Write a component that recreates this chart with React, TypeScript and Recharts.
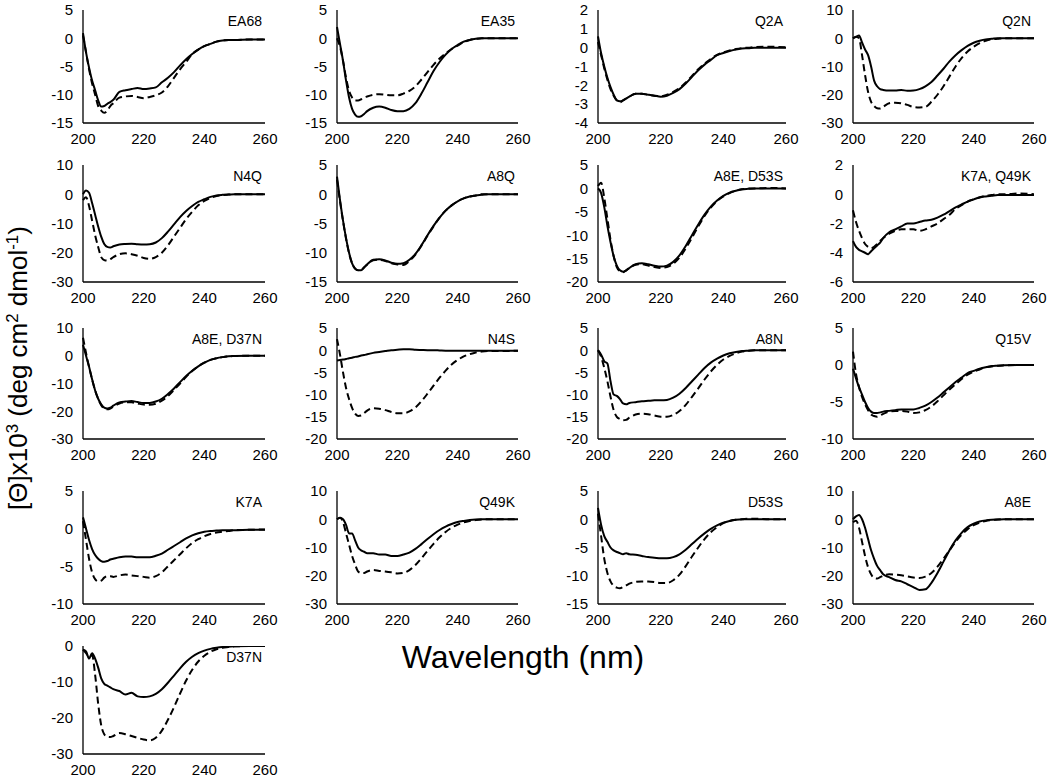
import { LineChart, Line, XAxis, YAxis } from "recharts";

// wavelength grid (nm)
const WL = [
  200, 201, 202, 203, 204, 205, 206, 207, 208, 209, 210,
  212, 214, 216, 218, 220, 222, 224, 226, 228, 230,
  232, 234, 236, 238, 240, 242, 244, 246, 248, 250,
  255, 260,
];
const X_TICKS = [200, 220, 240, 260];

// y tick sets
const T_5_15 = [-15, -10, -5, 0, 5];
const T_2_4 = [-4, -3, -2, -1, 0, 1, 2];
const T_10_30 = [-30, -20, -10, 0, 10];
const T_5_20 = [-20, -15, -10, -5, 0, 5];
const T_2_6 = [-6, -4, -2, 0, 2];
const T_5_10 = [-10, -5, 0, 5];
const T_0_30 = [-30, -20, -10, 0];

// ellipticity values (x10^3), solid and dashed traces
const ea68Solid = [0.9, -2.5, -5.2, -7.5, -9.2, -11, -12.1, -12, -11.6, -11.3, -10.9, -9.5, -9.2, -9.0, -8.8, -9.0, -8.9, -8.7, -7.8, -7, -6, -4.8, -3.7, -2.8, -2, -1.4, -1.0, -0.6, -0.4, -0.3, -0.3, -0.2, -0.2];
const ea68Dashed = [0.5, -2.5, -5.5, -8, -10, -12, -12.8, -13.2, -12.8, -12, -11.5, -10.5, -10.3, -10.2, -10.4, -10.6, -10.4, -10.1, -9.6, -8.5, -7, -5.5, -4.2, -2.8, -2, -1.4, -1.0, -0.6, -0.4, -0.3, -0.3, -0.2, -0.2];
const ea35Solid = [2, -1, -4, -7.5, -10.5, -12.5, -13.5, -13.9, -13.8, -13.4, -12.9, -12.3, -12.1, -12.3, -12.7, -12.9, -12.9, -12.5, -11.5, -9.8, -7.8, -5.8, -4.2, -2.9, -1.9, -1.2, -0.6, -0.3, -0.1, 0, 0, 0, 0];
const ea35Dashed = [0, -1.5, -4, -7, -9.3, -10.5, -11, -11, -10.8, -10.5, -10.3, -10.0, -9.9, -10.0, -10.1, -10.1, -9.8, -9.3, -8.5, -7.3, -6, -4.7, -3.6, -2.7, -1.9, -1.3, -0.7, -0.3, -0.1, 0, 0, 0, 0];
const q2aSolid = [0.6, -0.3, -1.0, -1.6, -2.1, -2.5, -2.8, -2.85, -2.8, -2.7, -2.6, -2.45, -2.45, -2.5, -2.55, -2.6, -2.55, -2.4, -2.2, -1.9, -1.55, -1.2, -0.9, -0.65, -0.4, -0.28, -0.18, -0.1, -0.05, -0.03, 0, 0, 0];
const q2aDashed = [0.3, -0.4, -1.1, -1.7, -2.2, -2.55, -2.8, -2.9, -2.8, -2.7, -2.6, -2.45, -2.45, -2.5, -2.55, -2.58, -2.5, -2.35, -2.15, -1.85, -1.5, -1.15, -0.85, -0.6, -0.38, -0.25, -0.15, -0.07, -0.02, 0, 0.03, 0.05, 0.02];
const q2nSolid = [0, 0.5, 1, -1.5, -4, -6, -10, -15, -17, -18, -18.3, -18.5, -18.5, -18.3, -18.6, -18.5, -18, -17, -15.5, -13.2, -10.8, -8.2, -6, -4.2, -2.7, -1.6, -0.9, -0.4, -0.2, 0, 0, 0, 0];
const q2nDashed = [0, 0.5, 0, -6, -13, -19, -22.5, -24, -24.8, -24.9, -24.3, -23, -22.8, -23, -23.6, -24.3, -24.5, -24.3, -22.5, -20, -17, -13.5, -10, -7, -4.7, -3, -1.7, -0.9, -0.4, -0.2, 0, 0, 0];
const n4qSolid = [0, 1.3, 0.5, -3, -7, -11, -14.5, -17, -18, -18.2, -17.8, -17.2, -17, -16.9, -17.1, -17.2, -17.1, -16.5, -15, -12.8, -10.3, -7.8, -5.7, -4, -2.6, -1.7, -0.9, -0.4, -0.2, -0.1, 0, 0, 0];
const n4qDashed = [-2, -1, -4, -9, -14, -18, -21.5, -22.5, -22.7, -22.2, -21.5, -20.5, -20.2, -20.5, -21, -21.8, -22.1, -21.5, -20, -17.5, -14.5, -11.5, -8.5, -6, -3.8, -2.3, -1.3, -0.6, -0.3, -0.1, 0, 0, 0];
const a8qSolid = [3, -1, -4.5, -7.5, -10, -11.8, -12.7, -13, -13, -12.5, -12, -11.2, -11.1, -11.3, -11.7, -11.9, -11.8, -11.2, -10.2, -8.7, -7, -5.4, -4, -2.8, -1.9, -1.2, -0.7, -0.4, -0.2, -0.1, 0, 0, 0];
const a8qDashed = [2.5, -1.2, -4.6, -7.6, -10.1, -11.8, -12.7, -13, -12.9, -12.5, -12, -11.3, -11.2, -11.4, -11.8, -12.0, -12.1, -11.4, -10.3, -8.8, -7.1, -5.5, -4, -2.8, -1.9, -1.2, -0.7, -0.4, -0.2, 0, 0, 0, 0];
const a8eD53sSolid = [0, -1, -4, -8, -11.5, -14.5, -16.5, -17.5, -17.8, -17.5, -17, -16.2, -16, -16.2, -16.5, -16.7, -16.5, -15.7, -14.3, -12.3, -10, -7.7, -5.6, -3.9, -2.6, -1.6, -0.9, -0.5, -0.2, -0.1, 0, 0, 0];
const a8eD53sDashed = [0.5, 1.2, -2, -6.5, -11, -14.5, -16.8, -17.7, -17.9, -17.5, -17, -16.3, -16.2, -16.5, -16.8, -17, -16.8, -16.1, -14.8, -12.8, -10.5, -8.1, -5.9, -4.1, -2.7, -1.7, -1, -0.5, -0.2, 0, 0, 0.1, 0];
const k7aQ49kSolid = [-3.2, -3.6, -3.8, -3.9, -4.0, -4.1, -3.9, -3.7, -3.5, -3.3, -3.0, -2.6, -2.4, -2.2, -2.0, -2.0, -1.9, -1.8, -1.75, -1.6, -1.4, -1.15, -0.9, -0.7, -0.5, -0.35, -0.22, -0.15, -0.1, -0.05, -0.05, -0.05, -0.05];
const k7aQ49kDashed = [-1.1, -1.9, -2.5, -3.0, -3.4, -3.6, -3.7, -3.6, -3.4, -3.2, -3.0, -2.7, -2.5, -2.4, -2.4, -2.4, -2.5, -2.4, -2.2, -2.0, -1.7, -1.4, -1.0, -0.75, -0.5, -0.35, -0.2, -0.1, -0.05, 0, 0, 0.05, 0];
const a8eD37nSolid = [4, 0, -4, -8.5, -12.5, -15.5, -17.5, -18.7, -19, -18.7, -18, -16.8, -16.5, -16.3, -16.7, -17, -17, -16.5, -15.5, -13.8, -11.8, -9.5, -7.3, -5.4, -3.8, -2.5, -1.5, -0.9, -0.5, -0.2, -0.1, 0, 0];
const a8eD37nDashed = [6.5, 1, -4, -8.5, -12.5, -15.5, -17.8, -19, -19.3, -19, -18.3, -17.2, -16.8, -16.8, -17.2, -17.6, -17.7, -17.3, -16.2, -14.5, -12.3, -10, -7.6, -5.5, -3.8, -2.5, -1.5, -0.9, -0.5, -0.2, -0.1, 0, 0];
const n4sSolid = [-2.3, -2.2, -2.1, -2.0, -1.8, -1.7, -1.5, -1.4, -1.2, -1.1, -0.9, -0.6, -0.4, -0.2, 0, 0.1, 0.2, 0.2, 0.1, 0.05, 0, 0, -0.05, -0.1, -0.1, -0.1, -0.1, -0.1, -0.1, -0.1, -0.1, -0.1, -0.1];
const n4sDashed = [2.5, -1, -5, -8.5, -11, -13, -14.3, -14.8, -14.7, -14.2, -13.6, -13.1, -13.2, -13.5, -13.9, -14.2, -14.2, -13.8, -12.9, -11.5, -9.8, -8, -6.2, -4.6, -3.2, -2.2, -1.4, -0.9, -0.5, -0.3, -0.2, -0.2, -0.1];
const a8nSolid = [0, -1, -2.5, -3, -7, -10, -10.3, -11, -12, -12.2, -11.9, -11.7, -11.5, -11.4, -11.3, -11.3, -11.2, -10.7, -9.8, -8.5, -7, -5.5, -4, -2.8, -1.9, -1.2, -0.7, -0.4, -0.2, -0.1, 0, 0, 0];
const a8nDashed = [0, -1.5, -4, -7, -10.5, -13.5, -15, -15.5, -15.8, -15.7, -15.2, -14.5, -14.3, -14.4, -14.7, -15, -15, -14.6, -13.7, -12.3, -10.5, -8.6, -6.6, -4.8, -3.3, -2.1, -1.3, -0.7, -0.3, -0.1, 0, 0, 0];
const q15vSolid = [-0.5, -1.8, -3, -4, -5, -5.8, -6.3, -6.5, -6.5, -6.4, -6.3, -6.2, -6.1, -6.0, -6.0, -6.0, -5.8, -5.5, -5.0, -4.4, -3.7, -3.0, -2.3, -1.7, -1.1, -0.8, -0.5, -0.3, -0.15, -0.1, -0.05, 0, 0];
const q15vDashed = [1.8, -1.2, -3, -4.3, -5.3, -6.1, -6.7, -6.9, -7, -6.8, -6.6, -6.3, -6.2, -6.2, -6.3, -6.5, -6.4, -6.1, -5.6, -4.9, -4.1, -3.3, -2.6, -1.9, -1.3, -0.9, -0.6, -0.3, -0.2, -0.1, -0.05, 0, 0];
const k7aSolid = [1.5, 0, -1.5, -2.7, -3.5, -4.0, -4.3, -4.4, -4.3, -4.1, -4.0, -3.8, -3.7, -3.7, -3.8, -3.8, -3.8, -3.6, -3.3, -2.8, -2.3, -1.8, -1.3, -0.9, -0.6, -0.4, -0.3, -0.25, -0.2, -0.2, -0.2, -0.15, -0.15];
const k7aDashed = [1, -1.5, -4, -5.8, -6.7, -7, -6.9, -6.5, -6.3, -6.3, -6.4, -6.2, -6.1, -6.2, -6.3, -6.4, -6.5, -6.3, -5.8, -5, -4.2, -3.4, -2.6, -1.9, -1.4, -1, -0.7, -0.5, -0.4, -0.3, -0.2, -0.15, -0.1];
const q49kSolid = [0, 0.5, 0, -2, -5, -5, -7.5, -10, -11, -11.5, -12, -12, -12.5, -12.5, -13, -13, -12.5, -11.8, -10.5, -8.8, -7, -5.3, -3.8, -2.6, -1.7, -1, -0.6, -0.3, -0.1, 0, 0, 0, 0];
const q49kDashed = [0, 0.5, -1, -5, -9, -13, -16, -18.5, -19, -19, -18.5, -18, -18.3, -18.5, -18.8, -19.2, -19, -18, -16.2, -13.8, -11.2, -8.7, -6.4, -4.5, -3, -1.9, -1.1, -0.6, -0.3, -0.1, 0, 0, 0];
const d53sSolid = [2, -1, -3, -4, -5, -5.5, -5.8, -6, -6.2, -6, -6.2, -6.3, -6.5, -6.7, -6.8, -6.9, -6.9, -6.7, -6.2, -5.4, -4.4, -3.4, -2.5, -1.7, -1.1, -0.6, -0.3, -0.1, 0, 0, 0, 0, 0];
const d53sDashed = [1, -3, -7, -9.5, -11, -11.8, -12.1, -12.2, -12, -11.7, -11.4, -11.1, -11, -11, -11.1, -11.3, -11.3, -10.8, -9.8, -8.3, -6.6, -5, -3.5, -2.3, -1.4, -0.7, -0.3, -0.1, 0, 0.1, 0.1, 0, 0];
const a8eSolid = [0, 1, 1.5, 0, -3, -7, -11, -14, -16.5, -18, -19.5, -20.5, -21.5, -22, -23, -24, -25, -24.8, -22.5, -19, -15, -11, -7.5, -4.8, -2.8, -1.6, -0.8, -0.4, -0.2, -0.1, 0, 0, 0];
const a8eDashed = [-1, -0.5, -3, -8, -13, -17, -19.5, -20.8, -21, -20.5, -20, -19.5, -19.6, -19.8, -20.2, -20.6, -20.8, -20.3, -19, -16.8, -14, -11, -8, -5.5, -3.5, -2.1, -1.2, -0.6, -0.3, -0.1, 0, 0, 0];
const d37nSolid = [-1, -1.5, -3.5, -2, -3.5, -6, -9, -10.5, -11, -11.5, -12, -12.5, -13.5, -13, -14, -14.2, -14, -13.3, -12, -10.2, -8.2, -6.2, -4.4, -3, -2, -1.3, -0.8, -0.5, -0.3, -0.2, -0.1, 0, 0];
const d37nDashed = [-1, -2, -3, -2.5, -8, -16, -22, -24.5, -25.2, -25.3, -25, -24.2, -24.5, -25, -25.5, -26, -26.2, -25.5, -23.5, -20.5, -17, -13.2, -9.6, -6.6, -4.3, -2.7, -1.6, -0.9, -0.5, -0.3, -0.1, 0, 0];

const PANELS = [
  { label: "EA68", solid: ea68Solid, dashed: ea68Dashed, ticks: T_5_15, col: 0, row: 0 },
  { label: "EA35", solid: ea35Solid, dashed: ea35Dashed, ticks: T_5_15, col: 1, row: 0 },
  { label: "Q2A", solid: q2aSolid, dashed: q2aDashed, ticks: T_2_4, col: 2, row: 0 },
  { label: "Q2N", solid: q2nSolid, dashed: q2nDashed, ticks: T_10_30, col: 3, row: 0 },
  { label: "N4Q", solid: n4qSolid, dashed: n4qDashed, ticks: T_10_30, col: 0, row: 1 },
  { label: "A8Q", solid: a8qSolid, dashed: a8qDashed, ticks: T_5_15, col: 1, row: 1 },
  { label: "A8E, D53S", solid: a8eD53sSolid, dashed: a8eD53sDashed, ticks: T_5_20, col: 2, row: 1 },
  { label: "K7A, Q49K", solid: k7aQ49kSolid, dashed: k7aQ49kDashed, ticks: T_2_6, col: 3, row: 1 },
  { label: "A8E, D37N", solid: a8eD37nSolid, dashed: a8eD37nDashed, ticks: T_10_30, col: 0, row: 2 },
  { label: "N4S", solid: n4sSolid, dashed: n4sDashed, ticks: T_5_20, col: 1, row: 2 },
  { label: "A8N", solid: a8nSolid, dashed: a8nDashed, ticks: T_5_20, col: 2, row: 2 },
  { label: "Q15V", solid: q15vSolid, dashed: q15vDashed, ticks: T_5_10, col: 3, row: 2 },
  { label: "K7A", solid: k7aSolid, dashed: k7aDashed, ticks: T_5_10, col: 0, row: 3 },
  { label: "Q49K", solid: q49kSolid, dashed: q49kDashed, ticks: T_10_30, col: 1, row: 3 },
  { label: "D53S", solid: d53sSolid, dashed: d53sDashed, ticks: T_5_15, col: 2, row: 3 },
  { label: "A8E", solid: a8eSolid, dashed: a8eDashed, ticks: T_10_30, col: 3, row: 3 },
  { label: "D37N", solid: d37nSolid, dashed: d37nDashed, ticks: T_0_30, col: 0, row: 4 },
];

// plot-area edges on the page
const COL_X = [[83, 265], [337, 518], [598, 786], [853, 1034]];
const ROW_Y = [[10, 123], [165, 282], [328, 439], [491, 604], [646, 754]];

const FONT = "'Liberation Sans', Arial, sans-serif";
const AXIS_LINE = { stroke: "#000", strokeWidth: 1.3 };
const TICK = { fontSize: 15, fill: "#000", fontFamily: FONT };

function Panel({ p }: { p: (typeof PANELS)[number] }) {
  const [x0, x1] = COL_X[p.col];
  const [y0, y1] = ROW_Y[p.row];
  const yw = 50;
  const xh = 26;
  const padTop = 10;
  const padRight = 16;
  const w = x1 - x0 + yw + padRight;
  const h = y1 - y0 + xh + padTop;
  const domain = [p.ticks[0], p.ticks[p.ticks.length - 1]];
  const data = WL.map((wl, i) => ({ wl, solid: p.solid[i], dashed: p.dashed[i] }));

  return (
    <div style={{ position: "absolute", left: x0 - yw, top: y0 - padTop, width: w, height: h }}>
      <LineChart width={w} height={h} data={data} margin={{ top: padTop, right: padRight, left: 0, bottom: 0 }}>
        <XAxis
          dataKey="wl"
          type="number"
          domain={[200, 260]}
          ticks={X_TICKS}
          interval={0}
          tick={TICK}
          tickLine={false}
          tickSize={0}
          tickMargin={10}
          axisLine={AXIS_LINE}
          height={xh}
        />
        <XAxis xAxisId="top" orientation="top" dataKey="wl" type="number" domain={[200, 260]} tick={false} tickLine={false} height={0} axisLine={AXIS_LINE} />
        <YAxis
          type="number"
          domain={domain}
          ticks={p.ticks}
          interval={0}
          width={yw}
          tick={TICK}
          tickLine={false}
          tickSize={0}
          tickMargin={10}
          axisLine={AXIS_LINE}
          allowDataOverflow
        />
        <YAxis yAxisId="right" orientation="right" type="number" domain={domain} tick={false} tickLine={false} width={0} axisLine={AXIS_LINE} />
        <Line type="monotone" dataKey="dashed" stroke="#000" strokeWidth={2} strokeDasharray="7 4" dot={false} isAnimationActive={false} />
        <Line type="monotone" dataKey="solid" stroke="#000" strokeWidth={2} dot={false} isAnimationActive={false} />
      </LineChart>
      <div
        style={{
          position: "absolute",
          right: padRight + 3,
          top: padTop + 4,
          fontSize: 14,
          lineHeight: 1,
          fontFamily: FONT,
          color: "#000",
          whiteSpace: "nowrap",
        }}
      >
        {p.label}
      </div>
    </div>
  );
}

export default function App() {
  return (
    <div
      style={{
        position: "absolute",
        left: 0,
        top: 0,
        width: 1050,
        height: 781,
        background: "#fff",
        fontFamily: FONT,
        overflow: "hidden",
      }}
    >
      {PANELS.map((p) => (
        <Panel key={p.label} p={p} />
      ))}
      <div
        style={{
          position: "absolute",
          left: 523,
          top: 657,
          transform: "translate(-50%, -50%)",
          fontSize: 32,
          lineHeight: 1,
          whiteSpace: "nowrap",
        }}
      >
        Wavelength (nm)
      </div>
      <div
        style={{
          position: "absolute",
          left: 18,
          top: 368,
          transform: "translate(-50%, -50%) rotate(-90deg)",
          fontSize: 26,
          whiteSpace: "nowrap",
          lineHeight: 1,
        }}
      >
        [Θ]x10<sup style={{ fontSize: "0.65em" }}>3</sup> (deg cm<sup style={{ fontSize: "0.65em" }}>2</sup> dmol<sup style={{ fontSize: "0.65em" }}>-1</sup>)
      </div>
    </div>
  );
}
